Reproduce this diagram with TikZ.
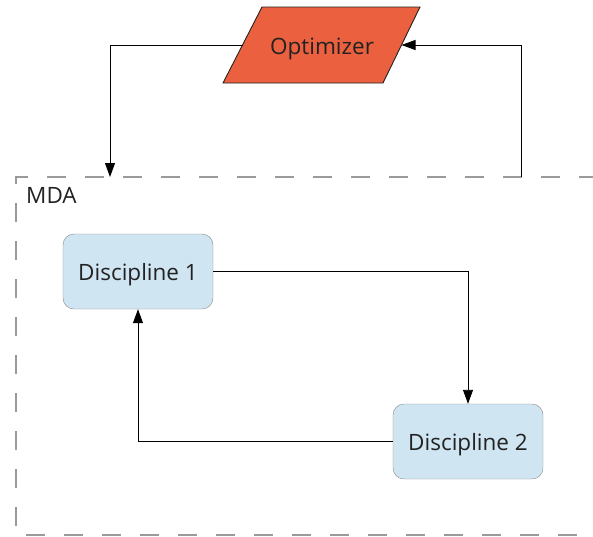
\documentclass[tikz,border=0pt]{standalone}
\usepackage{fontspec}
\setmainfont{Open Sans}
\usetikzlibrary{arrows.meta}
\definecolor{optfill}{HTML}{EB603F}
\definecolor{discfill}{HTML}{D0E5F2}
\definecolor{framegray}{HTML}{9A9A9A}
\definecolor{boxgray}{HTML}{888888}
\definecolor{ink}{HTML}{222222}
\tikzset{
  x=1pt, y=-1pt,
  lbl/.style={font=\fontsize{22.5}{26}\selectfont, text=ink, text height=17pt, text depth=0pt},
  disc/.style={lbl, draw=boxgray, fill=discfill, rounded corners=11pt, minimum width=150pt,
    minimum height=75pt, inner sep=0pt},
  optshape/.style={draw=ink, fill=optfill, line width=0.9pt, line join=miter},
  flow/.style={draw=black, line width=0.9pt, -{Triangle[length=14pt,width=10pt]}},
  mda/.style={draw=framegray, line width=1.4pt, dash pattern=on 19pt off 19pt, dash phase=16pt}
}
\begin{document}
\begin{tikzpicture}
\useasboundingbox (0,0) rectangle (593,536);
% MDA frame (runs off the right edge)
\draw[mda] (620,177) -- (16,177) -- (16,535) -- (620,535);
\node[lbl, anchor=north west, inner sep=0pt] (mdalabel) at (26,186) {MDA};
% optimizer parallelogram
\coordinate (optL) at (242.5,45);
\coordinate (optR) at (401.5,45);
\draw[optshape] (262,7) -- (420,7) -- (383,83) -- (223,83) -- cycle;
\node[lbl] (opt) at (322,45.5) {Optimizer};
% disciplines
\node[disc] (d1) at (138,271.5) {Discipline 1};
\node[disc] (d2) at (468,441.5) {Discipline 2};
\coordinate (mdain) at (110,177);
\coordinate (mdaout) at (521,177);
% connectors
\draw[flow] (optL) -| (mdain);
\draw[flow] (mdaout) |- (optR);
\draw[flow] (d1.east) -| (d2.north);
\draw[flow] (d2.west) -| (d1.south);
\end{tikzpicture}
\end{document}
